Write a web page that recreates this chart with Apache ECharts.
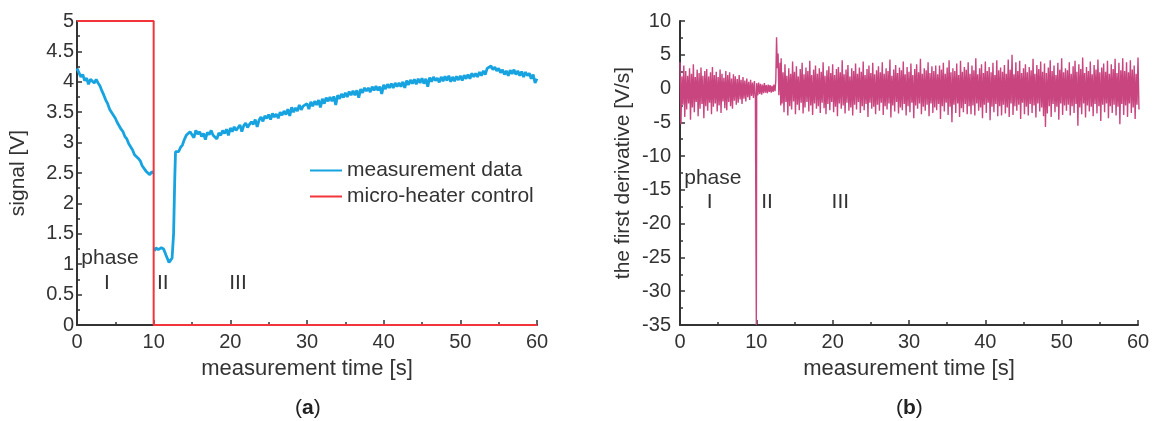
<!DOCTYPE html>
<html>
<head>
<meta charset="utf-8">
<script src="https://cdn.jsdelivr.net/npm/echarts@6/dist/echarts.min.js"></script>
<style>
  html, body { margin: 0; padding: 0; background: #fff; }
  #main { width: 1153px; height: 421px; }
</style>
</head>
<body>
<div id="main"></div>
<script>
// signal [V], phase I: t = 0 .. 10 s, step 0.25 s
let signalEarlyStart = 0;
let signalStep = 0.25;
let signalEarly = [
    4.22, 4.15, 4.08, 4.12, 4.02, 4.06, 3.96, 4.04, 4.05, 3.98,
    4.04, 3.98, 3.93, 3.85, 3.78, 3.70, 3.64, 3.55, 3.52, 3.45,
    3.40, 3.33, 3.30, 3.22, 3.18, 3.10, 3.06, 2.98, 2.95, 2.88,
    2.80, 2.77, 2.74, 2.70, 2.62, 2.60, 2.53, 2.56, 2.47, 2.52,
    2.50
];
// signal, phase II (time, value)
let signalMidTime = [10.1, 10.3, 10.6, 11.0, 11.3, 11.6, 12.0, 12.2, 12.4, 12.6, 12.75, 12.85, 13.0];
let signalMidValue = [1.22, 1.27, 1.24, 1.27, 1.25, 1.15, 1.03, 1.00, 1.10, 1.50, 2.40, 2.85, 2.82];
// signal, phase III: t = 13.25 .. 60 s, step 0.25 s
let signalLateStart = 13.25;
let signalLate = [
    2.85, 2.92, 2.96,
    3.05, 3.12, 3.10, 3.18,  3.16, 3.08, 3.20, 3.14,  3.18, 3.10, 3.15, 3.05,
    3.17, 3.13, 3.20, 3.12,  3.14, 3.06, 3.16, 3.12,  3.20, 3.15, 3.22, 3.12,
    3.24, 3.18, 3.26, 3.20,  3.22, 3.29, 3.18, 3.28,  3.32, 3.25, 3.30, 3.34,
    3.30, 3.38, 3.26, 3.37,  3.42, 3.35, 3.44, 3.40,  3.46, 3.38, 3.48, 3.42,
    3.47, 3.40, 3.50, 3.45,  3.52, 3.46, 3.55, 3.44,  3.58, 3.50, 3.57, 3.52,
    3.62, 3.54, 3.60, 3.63,  3.64, 3.55, 3.67, 3.60,  3.68, 3.62, 3.70, 3.58,
    3.72, 3.64, 3.74, 3.68,  3.75, 3.68, 3.76, 3.62,  3.78, 3.72, 3.80, 3.74,
    3.82, 3.75, 3.84, 3.78,  3.85, 3.78, 3.86, 3.74,  3.88, 3.82, 3.90, 3.85,
    3.90, 3.83, 3.92, 3.86,  3.93, 3.86, 3.92, 3.80,  3.95, 3.88, 3.96, 3.90,
    3.97, 3.90, 3.98, 3.92,  3.98, 3.92, 4.00, 3.90,  4.02, 3.95, 4.03, 3.97,
    4.04, 3.96, 4.05, 3.98,  4.06, 3.97, 4.05, 3.92,  4.07, 4.00, 4.08, 4.02,
    4.06, 3.99, 4.08, 4.01,  4.09, 4.02, 4.10, 4.00,  4.08, 4.01, 4.09, 4.03,
    4.10, 4.02, 4.11, 4.05,  4.12, 4.05, 4.14, 4.08,  4.14, 4.08, 4.16, 4.10,
    4.18, 4.12, 4.22, 4.20,  4.26, 4.20, 4.24, 4.18,  4.22, 4.15, 4.20, 4.12,
    4.18, 4.10, 4.19, 4.13,  4.20, 4.12, 4.18, 4.10,  4.17, 4.08, 4.16, 4.10,
    4.14, 4.05, 4.12, 3.98,
    4.05
];

// micro-heater control [V]
let heaterTime = [0, 10, 10, 60];
let heaterValue = [5, 5, 0, 0];

// first derivative [V/s]: upper / lower swing per 0.25 s, phase I (t = 0 .. 9.75)
let derivStep = 0.25;
let derivEarlyStart = 0;
let derivEarlyHigh = [
    3.9, 1.8, 3.4, 2.6, 1.9, 3.0, 2.2, 3.6, 1.7, 2.8,
    2.3, 3.1, 1.9, 2.6, 2.9, 1.8, 2.4, 3.2, 2.0, 2.5,
    1.7, 2.8, 2.2, 1.6, 2.6, 2.0, 2.4, 1.5, 2.1, 1.8,
    1.4, 2.0, 1.3, 1.7, 1.2, 1.5, 1.0, 1.3, 0.9, 1.1
];
let derivEarlyLow = [
    -5.3, -2.4, -4.2, -3.1, -2.2, -4.6, -2.8, -3.5, -2.0, -4.1,
    -3.0, -2.3, -4.4, -2.6, -3.3, -2.1, -3.8, -2.7, -2.2, -3.4,
    -2.5, -3.6, -1.9, -2.9, -3.2, -2.0, -2.6, -3.0, -1.8, -2.4,
    -2.1, -1.6, -2.3, -1.5, -1.9, -1.3, -1.7, -1.1, -1.4, -1.2
];
// phase II (time, value)
let derivMidTime = [10, 10, 10.05, 10.2, 10.3, 10.45, 10.55, 10.7, 10.8, 10.95, 11.05, 11.2, 11.3, 11.45,
    11.55, 11.7, 11.8, 11.95, 12.05, 12.2, 12.3, 12.45, 12.55, 12.65, 12.75, 12.85, 12.95, 13.1, 13.2];
let derivMidValue = [-1.2, -35, 0.8, -1.0, 0.9, -0.8, 0.7, -0.9, 0.6, -0.7, 0.8, -0.6, 0.5, -0.7,
    0.6, -0.5, 0.5, -0.6, 0.4, -0.5, 0.6, -0.4, 1.2, 7.6, 3.0, 5.2, -1.0, 3.8, -2.5];
// phase III (t = 13.25 .. 60)
let derivLateStart = 13.25;
let derivLateHigh = [
    4.5, 2.4, 3.6, 1.9, 3.0, 2.2, 4.0, 2.5, 3.3, 1.8,
    2.9, 3.8, 2.1, 3.1, 2.6, 4.1, 2.0, 2.8, 3.4, 2.2,
    3.0, 2.5, 3.9, 1.9, 2.7, 3.3, 2.3, 3.6, 2.0, 2.9,
    3.2, 2.4, 4.2, 2.1, 2.8, 3.5, 1.8, 3.0, 2.6, 3.7,
    2.2, 3.1, 2.5, 4.0, 2.0, 2.9, 3.4, 2.3, 3.8, 2.1,
    2.7, 3.3, 2.4, 3.9, 2.2, 3.0, 2.6, 4.3, 1.9, 2.8,
    3.5, 2.3, 3.1, 2.7, 4.0, 2.1, 3.2, 2.5, 3.7, 2.0,
    2.9, 3.6, 2.4, 4.4, 2.2, 3.0, 2.7, 3.9, 2.3, 3.3,
    2.6, 3.4, 2.1, 3.4, 2.8, 3.8, 2.2, 3.1, 4.2, 2.4,
    3.0, 2.6, 3.7, 2.0, 4.1, 2.5, 3.2, 2.8, 3.9, 2.2,
    3.4, 2.7, 4.5, 2.1, 3.0, 3.6, 2.3, 4.0, 2.6, 3.2,
    2.4, 3.8, 2.0, 4.2, 2.7, 3.1, 2.5, 3.5, 2.2, 4.3,
    2.8, 5.0, 2.1, 3.9, 2.6, 4.1, 2.3, 3.0, 3.6, 2.4,
    3.2, 2.7, 4.4, 2.2, 3.5, 2.9, 4.0, 2.5, 3.7, 2.3,
    3.1, 4.2, 2.6, 3.4, 2.0, 3.8, 2.8, 4.5, 2.4, 3.0,
    2.7, 3.9, 2.2, 3.3, 4.1, 2.5, 3.6, 2.9, 4.6, 2.3,
    3.2, 2.6, 4.0, 2.1, 3.5, 2.8, 4.3, 2.4, 3.1, 3.7,
    2.5, 4.1, 2.2, 3.6, 2.9, 4.4, 2.3, 3.8, 2.7, 4.5,
    2.6, 3.9, 2.4, 4.2, 2.8, 3.4, 2.2, 4.6
];
let derivLateLow = [
    -2.2, -3.5, -2.0, -4.0, -2.6, -3.1, -1.9, -3.8, -2.4, -3.2,
    -2.1, -3.7, -2.8, -2.0, -3.4, -2.5, -3.9, -2.2, -3.0, -2.6,
    -3.6, -2.1, -2.9, -3.8, -2.3, -3.2, -2.0, -3.5, -2.7, -4.1,
    -2.2, -3.0, -2.5, -3.7, -2.1, -3.3, -2.8, -4.0, -2.4, -3.1,
    -2.0, -3.6, -2.6, -3.2, -2.3, -4.2, -2.1, -3.0, -2.7, -3.8,
    -2.4, -3.3, -2.1, -3.9, -2.6, -3.1, -2.2, -4.3, -2.5, -3.4,
    -2.0, -3.7, -2.8, -3.2, -2.3, -4.0, -2.6, -3.5, -2.1, -4.4,
    -2.5, -3.0, -2.2, -3.8, -2.7, -3.3, -2.4, -4.1, -2.2, -3.6,
    -2.8, -3.2, -2.3, -4.5, -2.6, -3.4, -2.1, -3.9, -2.7, -5.0,
    -2.4, -3.6, -2.2, -4.2, -2.9, -3.5, -2.3, -3.8, -2.6, -3.8,
    -2.5, -4.0, -2.2, -3.3, -2.8, -4.4, -2.4, -3.6, -2.1, -4.7,
    -2.7, -3.5, -2.3, -4.1, -2.6, -4.0, -2.4, -3.7, -2.8, -4.2,
    -2.2, -3.9, -2.6, -3.3, -2.4, -4.5, -2.1, -3.8, -2.7, -4.0,
    -2.3, -3.6, -2.5, -4.3, -2.2, -3.4, -2.8, -4.1, -5.7, -3.7,
    -2.6, -4.2, -2.3, -3.5, -2.7, -4.6, -2.2, -3.9, -2.5, -3.3,
    -2.4, -4.0, -2.6, -3.6, -2.3, -5.5, -2.8, -3.8, -2.2, -4.3,
    -2.5, -3.4, -2.7, -4.1, -2.3, -3.7, -2.6, -4.8, -2.4, -3.5,
    -2.2, -4.4, -2.6, -3.6, -2.4, -4.0, -2.7, -5.3, -2.3, -3.9,
    -2.5, -4.2, -2.2, -3.6, -2.8, -4.5, -2.4, -3.1
];

let phaseText = ['phase', 'I', 'II', 'III'];

// build point lists
function stepSeries(start, step, values) {
    return values.map((v, i) => [start + i * step, v]);
}
function pairSeries(times, values) {
    return times.map((t, i) => [t, values[i]]);
}
// swing up/down inside each step
function swingSeries(start, step, highs, lows) {
    let out = [];
    highs.forEach((h, i) => {
        out.push([start + i * step, h]);
        out.push([start + i * step + step / 2, lows[i]]);
    });
    return out;
}

// gap between phase I and phase II of the signal (heater switched off)
let signalData = stepSeries(signalEarlyStart, signalStep, signalEarly)
    .concat([[10.05, '-']])
    .concat(pairSeries(signalMidTime, signalMidValue))
    .concat(stepSeries(signalLateStart, signalStep, signalLate));
let heaterData = pairSeries(heaterTime, heaterValue);
let derivData = swingSeries(derivEarlyStart, derivStep, derivEarlyHigh, derivEarlyLow)
    .concat(pairSeries(derivMidTime, derivMidValue))
    .concat(swingSeries(derivLateStart, derivStep, derivLateHigh, derivLateLow));

let chart = echarts.init(document.getElementById("main"));

let font = 'Liberation Sans, Arial, sans-serif';
let axisColor = '#333';

function xAxisOf(grid) {
    return {
        type: 'value',
        gridIndex: grid,
        min: 0,
        max: 60,
        interval: 10,
        name: 'measurement time [s]',
        nameLocation: 'middle',
        nameGap: 33,
        nameTextStyle: { fontSize: 22, color: axisColor, fontFamily: font },
        axisLine: { show: true, onZero: false, lineStyle: { color: axisColor, width: 2 } },
        axisTick: { show: true, inside: true, length: 5, lineStyle: { color: axisColor, width: 1.5 } },
        minorTick: { show: true, splitNumber: 2, length: 3, lineStyle: { color: axisColor, width: 1.5 } },
        axisLabel: { fontSize: 20, color: axisColor, fontFamily: font, margin: 7 },
        splitLine: { show: false }
    };
}

function yAxisOf(grid, min, max, interval, name, gap, labelMargin) {
    return {
        type: 'value',
        gridIndex: grid,
        min: min,
        max: max,
        interval: interval,
        name: name,
        nameLocation: 'middle',
        nameGap: gap,
        nameTextStyle: { fontSize: 21, color: axisColor, fontFamily: font },
        axisLine: { show: true, onZero: false, lineStyle: { color: axisColor, width: 2 } },
        axisTick: { show: true, inside: true, length: 5, lineStyle: { color: axisColor, width: 1.5 } },
        minorTick: { show: true, splitNumber: 2, length: 3, lineStyle: { color: axisColor, width: 1.5 } },
        axisLabel: { fontSize: 20, color: axisColor, fontFamily: font, margin: labelMargin },
        splitLine: { show: false }
    };
}

// phase annotations, drawn as labels of invisible points
function phaseLabels(xIdx, yIdx, points) {
    return {
        type: 'scatter',
        xAxisIndex: xIdx,
        yAxisIndex: yIdx,
        symbolSize: 0,
        silent: true,
        z: 5,
        itemStyle: { opacity: 1 },
        label: {
            show: true,
            position: 'inside',
            formatter: (p) => p.name,
            fontSize: 21,
            color: '#333',
            textBorderWidth: 0,
            textBorderColor: 'transparent',
            fontFamily: font
        },
        data: points.map((pt, i) => ({ name: phaseText[i], value: pt }))
    };
}

var option = {
    animation: false,
    backgroundColor: '#fff',
    textStyle: { fontFamily: font },
    grid: [
        { left: 77, right: 616, top: 21, bottom: 96 },
        { left: 680, right: 15, top: 21, bottom: 96 }
    ],
    xAxis: [xAxisOf(0), xAxisOf(1)],
    yAxis: [
        yAxisOf(0, 0, 5, 0.5, 'signal [V]', 48, 3),
        yAxisOf(1, -35, 10, 5, 'the first derivative [V/s]', 46, 9)
    ],
    legend: {
        orient: 'vertical',
        left: 305,
        top: 155,
        icon: 'rect',
        itemWidth: 32,
        itemHeight: 2,
        itemGap: 5,
        textStyle: { fontSize: 21, color: axisColor, fontFamily: font },
        data: ['measurement data', 'micro-heater control']
    },
    graphic: [
        {
            type: 'text', left: 295, top: 398,
            style: { text: '({b|a})', font: '21px ' + font, fill: '#222', rich: { b: { fontWeight: 'bold', fontSize: 21, fontFamily: font } } }
        },
        {
            type: 'text', left: 896, top: 398,
            style: { text: '({b|b})', font: '21px ' + font, fill: '#222', rich: { b: { fontWeight: 'bold', fontSize: 21, fontFamily: font } } }
        }
    ],
    series: [
        {
            name: 'measurement data',
            type: 'line',
            xAxisIndex: 0,
            yAxisIndex: 0,
            showSymbol: false,
            connectNulls: false,
            lineStyle: { color: '#17a3e0', width: 2.8 },
            itemStyle: { color: '#17a3e0' },
            data: signalData
        },
        {
            name: 'micro-heater control',
            type: 'line',
            xAxisIndex: 0,
            yAxisIndex: 0,
            showSymbol: false,
            lineStyle: { color: '#f2353d', width: 2 },
            itemStyle: { color: '#f2353d' },
            data: heaterData
        },
        {
            name: 'first derivative',
            type: 'line',
            xAxisIndex: 1,
            yAxisIndex: 1,
            showSymbol: false,
            lineStyle: { color: '#c8457f', width: 1.4 },
            itemStyle: { color: '#c8457f' },
            data: derivData
        },
        phaseLabels(0, 0, [[4.3, 1.1], [3.9, 0.69], [11.2, 0.69], [21, 0.69]]),
        phaseLabels(1, 1, [[4.3, -13.2], [3.9, -16.8], [11.4, -16.8], [21, -16.8]])
    ]
};

chart.setOption(option);
</script>
</body>
</html>
